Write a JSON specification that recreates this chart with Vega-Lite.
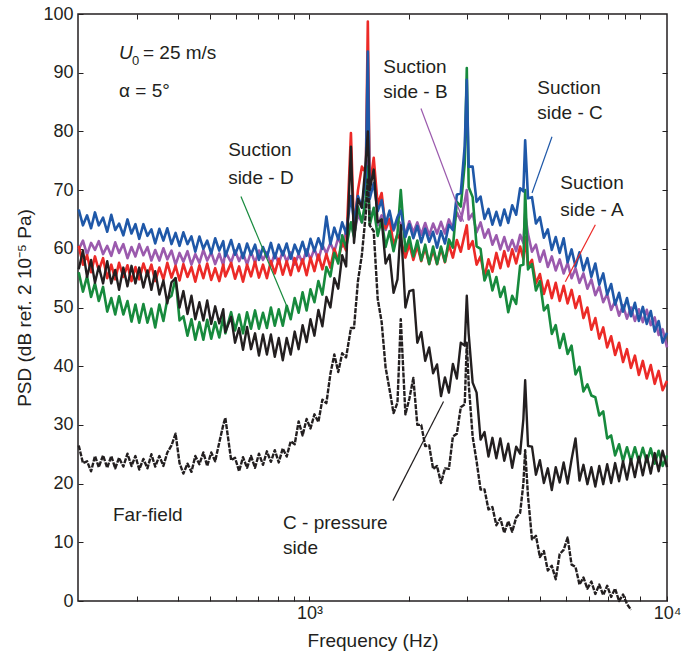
{
"$schema": "https://vega.github.io/schema/vega-lite/v6.json",
"width": 589, "height": 587,
"autosize": {"type": "none"},
"padding": {"left": 78, "top": 14, "right": 14, "bottom": 65},
"background": "white",
"config": {"view": {"stroke": "#231f20", "strokeWidth": 1.5}, "font": "Liberation Sans", "line": {"strokeJoin": "round", "clip": true}},
"data": {"values": [
{"freq":200,"A":60.5,"B":59.9,"C":66.7,"D":56.0,"P":56.5,"F":26.5},
{"freq":206,"A":57.3,"B":61.4,"C":64.0,"D":52.7,"P":59.7,"F":23.5},
{"freq":212,"A":58.9,"B":59.0,"C":65.7,"D":55.3,"P":55.2,"F":23.8},
{"freq":218,"A":56.0,"B":61.0,"C":63.5,"D":51.8,"P":58.1,"F":22.1},
{"freq":224,"A":58.7,"B":59.8,"C":66.2,"D":54.1,"P":54.2,"F":24.7},
{"freq":230,"A":56.3,"B":61.3,"C":64.0,"D":51.1,"P":57.0,"F":22.8},
{"freq":237,"A":58.4,"B":59.1,"C":65.3,"D":53.5,"P":54.1,"F":24.8},
{"freq":244,"A":55.0,"B":60.5,"C":62.9,"D":49.3,"P":57.9,"F":22.7},
{"freq":251,"A":57.3,"B":58.8,"C":65.8,"D":51.6,"P":54.1,"F":24.7},
{"freq":258,"A":54.8,"B":61.1,"C":63.2,"D":48.8,"P":56.4,"F":22.6},
{"freq":265,"A":57.6,"B":59.3,"C":64.3,"D":51.9,"P":53.0,"F":24.4},
{"freq":273,"A":55.2,"B":60.8,"C":62.3,"D":48.8,"P":56.8,"F":22.9},
{"freq":281,"A":57.2,"B":58.4,"C":65.0,"D":51.1,"P":53.6,"F":25.1},
{"freq":289,"A":54.5,"B":60.3,"C":62.6,"D":47.6,"P":57.1,"F":23.0},
{"freq":297,"A":56.9,"B":58.7,"C":64.2,"D":50.5,"P":54.1,"F":24.7},
{"freq":305,"A":54.8,"B":60.8,"C":61.7,"D":47.4,"P":56.8,"F":22.4},
{"freq":314,"A":57.5,"B":58.9,"C":64.2,"D":50.6,"P":53.4,"F":24.2},
{"freq":323,"A":55.4,"B":60.3,"C":62.2,"D":47.4,"P":56.3,"F":22.6},
{"freq":332,"A":57.3,"B":58.0,"C":63.3,"D":49.8,"P":53.0,"F":25.0},
{"freq":341,"A":54.5,"B":59.8,"C":60.9,"D":46.6,"P":56.2,"F":22.9},
{"freq":351,"A":56.8,"B":58.0,"C":63.4,"D":50.5,"P":52.2,"F":24.7},
{"freq":361,"A":54.8,"B":60.1,"C":61.4,"D":47.7,"P":54.6,"F":23.0},
{"freq":371,"A":57.6,"B":58.2,"C":63.5,"D":51.4,"P":50.7,"F":25.3},
{"freq":382,"A":55.1,"B":59.7,"C":60.8,"D":52.0,"P":54.3,"F":26.5},
{"freq":393,"A":57.1,"B":57.3,"C":62.7,"D":55.0,"P":55.0,"F":28.5},
{"freq":404,"A":54.6,"B":59.3,"C":60.5,"D":47.8,"P":50.0,"F":23.5},
{"freq":415,"A":57.4,"B":57.8,"C":62.8,"D":48.5,"P":52.8,"F":21.7},
{"freq":427,"A":55.2,"B":59.6,"C":60.8,"D":45.2,"P":48.9,"F":23.4},
{"freq":439,"A":56.9,"B":57.3,"C":62.1,"D":48.0,"P":52.0,"F":22.0},
{"freq":451,"A":54.4,"B":59.1,"C":59.5,"D":44.5,"P":48.0,"F":24.7},
{"freq":464,"A":57.2,"B":57.6,"C":62.1,"D":47.5,"P":50.9,"F":23.3},
{"freq":477,"A":55.0,"B":59.8,"C":60.0,"D":44.5,"P":47.8,"F":25.3},
{"freq":490,"A":57.5,"B":58.0,"C":61.4,"D":47.9,"P":51.2,"F":23.0},
{"freq":504,"A":54.7,"B":59.4,"C":59.2,"D":44.7,"P":47.2,"F":25.3},
{"freq":518,"A":56.7,"B":57.4,"C":61.8,"D":47.5,"P":50.2,"F":23.8},
{"freq":533,"A":54.5,"B":59.2,"C":59.7,"D":44.9,"P":47.3,"F":27.0},
{"freq":548,"A":57.3,"B":57.2,"C":61.3,"D":48.4,"P":49.7,"F":30.0},
{"freq":556,"A":55.3,"B":59.5,"C":58.7,"D":45.6,"P":45.8,"F":31.2},
{"freq":579,"A":57.6,"B":57.7,"C":61.5,"D":49.2,"P":48.4,"F":24.0},
{"freq":595,"A":54.9,"B":59.7,"C":59.0,"D":46.1,"P":44.0,"F":24.4},
{"freq":612,"A":57.0,"B":57.9,"C":60.8,"D":48.8,"P":46.5,"F":22.1},
{"freq":629,"A":54.4,"B":59.3,"C":58.4,"D":45.6,"P":42.8,"F":24.5},
{"freq":647,"A":57.3,"B":57.3,"C":60.9,"D":49.2,"P":46.7,"F":22.7},
{"freq":665,"A":55.3,"B":59.5,"C":59.0,"D":46.4,"P":42.9,"F":24.7},
{"freq":684,"A":57.8,"B":57.6,"C":60.7,"D":49.5,"P":45.6,"F":22.7},
{"freq":703,"A":55.1,"B":59.7,"C":58.1,"D":46.4,"P":41.8,"F":25.1},
{"freq":723,"A":57.3,"B":58.1,"C":60.3,"D":49.1,"P":45.4,"F":23.2},
{"freq":743,"A":55.0,"B":59.4,"C":58.6,"D":46.5,"P":42.0,"F":25.5},
{"freq":764,"A":57.9,"B":57.2,"C":61.0,"D":50.0,"P":45.4,"F":23.7},
{"freq":785,"A":55.8,"B":59.2,"C":58.4,"D":46.9,"P":41.6,"F":25.7},
{"freq":807,"A":58.3,"B":57.5,"C":60.7,"D":49.7,"P":44.8,"F":23.6},
{"freq":830,"A":55.6,"B":59.6,"C":58.9,"D":46.9,"P":41.0,"F":26.0},
{"freq":853,"A":57.9,"B":57.8,"C":60.9,"D":50.3,"P":44.8,"F":24.6},
{"freq":877,"A":55.5,"B":59.4,"C":58.3,"D":48.0,"P":42.0,"F":27.2},
{"freq":902,"A":58.4,"B":57.3,"C":60.7,"D":51.6,"P":45.9,"F":26.7},
{"freq":927,"A":56.2,"B":59.1,"C":59.1,"D":49.1,"P":42.9,"F":30.6},
{"freq":953,"A":58.2,"B":57.6,"C":61.2,"D":52.6,"P":47.0,"F":28.2},
{"freq":980,"A":55.5,"B":59.9,"C":58.8,"D":49.5,"P":44.1,"F":31.0},
{"freq":1007,"A":58.5,"B":58.2,"C":61.7,"D":53.1,"P":48.0,"F":29.4},
{"freq":1035,"A":56.2,"B":60.0,"C":59.6,"D":50.9,"P":45.2,"F":31.8},
{"freq":1064,"A":59.0,"B":58.1,"C":61.8,"D":54.5,"P":49.6,"F":30.5},
{"freq":1094,"A":56.5,"B":60.7,"C":60.0,"D":52.2,"P":46.8,"F":34.3},
{"freq":1125,"A":59.1,"B":59.2,"C":65.5,"D":56.9,"P":51.8,"F":33.7},
{"freq":1157,"A":56.8,"B":61.0,"C":60.8,"D":55.3,"P":50.0,"F":38.7},
{"freq":1189,"A":60.0,"B":59.5,"C":63.6,"D":59.3,"P":55.0,"F":42.0},
{"freq":1222,"A":58.0,"B":61.9,"C":61.6,"D":57.5,"P":53.2,"F":39.0},
{"freq":1256,"A":61.2,"B":60.4,"C":64.5,"D":62.3,"P":58.9,"F":42.2},
{"freq":1291,"A":59.7,"B":63.2,"C":62.6,"D":60.2,"P":57.0,"F":41.5},
{"freq":1335,"A":79.7,"B":64.3,"C":69.0,"D":64.5,"P":77.4,"F":46.5},
{"freq":1364,"A":63.0,"B":62.3,"C":64.7,"D":62.0,"P":61.0,"F":46.5},
{"freq":1402,"A":70.0,"B":65.8,"C":69.0,"D":67.2,"P":68.5,"F":54.5},
{"freq":1441,"A":74.0,"B":64.5,"C":67.0,"D":64.5,"P":67.0,"F":59.0},
{"freq":1481,"A":73.0,"B":67.5,"C":72.5,"D":68.5,"P":75.0,"F":66.0},
{"freq":1502,"A":98.7,"B":75.0,"C":93.6,"D":74.0,"P":80.0,"F":72.0},
{"freq":1522,"A":70.5,"B":65.0,"C":68.5,"D":64.0,"P":70.0,"F":64.0},
{"freq":1565,"A":75.5,"B":66.7,"C":71.2,"D":67.0,"P":73.5,"F":63.0},
{"freq":1609,"A":67.5,"B":64.0,"C":66.4,"D":62.2,"P":64.5,"F":51.5},
{"freq":1654,"A":69.5,"B":65.7,"C":68.3,"D":65.0,"P":65.0,"F":47.5},
{"freq":1700,"A":63.5,"B":63.2,"C":64.2,"D":60.3,"P":57.5,"F":39.8},
{"freq":1748,"A":65.1,"B":65.0,"C":66.5,"D":63.0,"P":59.0,"F":36.0},
{"freq":1797,"A":60.7,"B":63.1,"C":63.3,"D":59.6,"P":52.5,"F":32.0},
{"freq":1847,"A":62.4,"B":64.9,"C":65.4,"D":62.6,"P":54.8,"F":33.8},
{"freq":1890,"A":61.5,"B":64.3,"C":66.5,"D":70.0,"P":64.0,"F":48.0},
{"freq":1952,"A":58.5,"B":62.6,"C":62.0,"D":59.6,"P":50.0,"F":31.8},
{"freq":2007,"A":60.8,"B":64.7,"C":64.2,"D":62.0,"P":52.8,"F":34.5},
{"freq":2063,"A":58.1,"B":62.8,"C":61.8,"D":58.7,"P":53.0,"F":38.0},
{"freq":2121,"A":60.5,"B":64.5,"C":63.9,"D":61.4,"P":44.0,"F":30.0},
{"freq":2180,"A":57.9,"B":62.4,"C":61.1,"D":58.0,"P":45.8,"F":30.0},
{"freq":2241,"A":60.2,"B":64.4,"C":63.4,"D":60.7,"P":40.9,"F":26.4},
{"freq":2304,"A":57.4,"B":62.3,"C":61.2,"D":57.4,"P":43.2,"F":26.5},
{"freq":2368,"A":59.8,"B":64.3,"C":62.9,"D":60.4,"P":38.8,"F":22.5},
{"freq":2434,"A":57.4,"B":62.6,"C":60.2,"D":57.4,"P":40.3,"F":23.0},
{"freq":2502,"A":60.1,"B":64.6,"C":63.0,"D":60.4,"P":34.9,"F":20.1},
{"freq":2572,"A":57.7,"B":62.6,"C":60.9,"D":57.8,"P":38.1,"F":22.6},
{"freq":2644,"A":60.7,"B":65.0,"C":64.1,"D":61.6,"P":35.5,"F":22.5},
{"freq":2718,"A":58.5,"B":63.4,"C":63.2,"D":60.2,"P":40.4,"F":28.0},
{"freq":2794,"A":61.5,"B":66.2,"C":69.2,"D":68.0,"P":37.9,"F":28.5},
{"freq":2872,"A":59.5,"B":64.8,"C":69.5,"D":67.2,"P":44.0,"F":33.0},
{"freq":2952,"A":62.5,"B":68.0,"C":77.5,"D":74.5,"P":43.5,"F":33.5},
{"freq":2995,"A":64.0,"B":70.0,"C":88.8,"D":90.8,"P":52.0,"F":44.0},
{"freq":3035,"A":60.0,"B":65.0,"C":74.0,"D":70.5,"P":45.5,"F":37.0},
{"freq":3120,"A":61.3,"B":66.0,"C":74.0,"D":68.8,"P":37.2,"F":28.0},
{"freq":3207,"A":57.3,"B":62.8,"C":68.0,"D":60.4,"P":35.5,"F":23.8},
{"freq":3297,"A":58.7,"B":64.5,"C":68.9,"D":60.0,"P":27.5,"F":19.0},
{"freq":3389,"A":55.2,"B":61.9,"C":65.1,"D":54.6,"P":28.8,"F":19.0},
{"freq":3484,"A":58.2,"B":63.3,"C":66.8,"D":56.3,"P":24.6,"F":15.6},
{"freq":3581,"A":56.1,"B":60.7,"C":64.1,"D":52.9,"P":27.8,"F":16.0},
{"freq":3681,"A":59.3,"B":62.3,"C":66.3,"D":55.2,"P":24.3,"F":12.9},
{"freq":3784,"A":56.7,"B":59.9,"C":64.0,"D":51.8,"P":27.7,"F":14.1},
{"freq":3890,"A":59.6,"B":62.0,"C":66.7,"D":53.5,"P":23.9,"F":11.6},
{"freq":3999,"A":57.0,"B":59.7,"C":64.4,"D":49.2,"P":26.8,"F":13.6},
{"freq":4111,"A":59.9,"B":61.5,"C":67.4,"D":52.0,"P":22.7,"F":11.8},
{"freq":4226,"A":57.5,"B":59.6,"C":65.8,"D":50.6,"P":26.3,"F":14.2},
{"freq":4344,"A":60.4,"B":62.4,"C":70.3,"D":57.1,"P":25.1,"F":15.0},
{"freq":4444,"A":58.3,"B":61.0,"C":69.8,"D":57.3,"P":31.0,"F":20.0},
{"freq":4500,"A":62.0,"B":66.0,"C":78.5,"D":70.0,"P":37.6,"F":25.7},
{"freq":4591,"A":57.1,"B":62.5,"C":68.6,"D":56.5,"P":26.4,"F":17.8},
{"freq":4719,"A":58.1,"B":59.5,"C":68.8,"D":57.4,"P":26.3,"F":10.5},
{"freq":4851,"A":54.1,"B":60.7,"C":64.3,"D":52.9,"P":21.5,"F":11.1},
{"freq":4987,"A":55.7,"B":57.8,"C":65.4,"D":54.5,"P":24.0,"F":7.5},
{"freq":5127,"A":52.3,"B":59.7,"C":61.9,"D":49.5,"P":20.1,"F":8.5},
{"freq":5270,"A":54.6,"B":56.9,"C":63.3,"D":50.4,"P":22.6,"F":5.2},
{"freq":5418,"A":51.6,"B":58.7,"C":59.8,"D":45.5,"P":18.9,"F":6.0},
{"freq":5569,"A":54.2,"B":56.3,"C":62.0,"D":47.0,"P":22.8,"F":3.7},
{"freq":5725,"A":51.1,"B":58.2,"C":59.3,"D":43.1,"P":20.2,"F":8.0},
{"freq":5885,"A":53.7,"B":55.8,"C":61.8,"D":45.5,"P":23.6,"F":8.7},
{"freq":6050,"A":50.7,"B":57.6,"C":57.7,"D":42.1,"P":20.0,"F":10.8},
{"freq":6219,"A":53.0,"B":55.0,"C":59.9,"D":43.5,"P":24.1,"F":6.2},
{"freq":6393,"A":49.9,"B":56.7,"C":57.0,"D":38.6,"P":27.7,"F":5.8},
{"freq":6572,"A":51.9,"B":54.2,"C":59.4,"D":39.9,"P":20.5,"F":2.8},
{"freq":6756,"A":48.2,"B":55.8,"C":56.3,"D":35.7,"P":23.2,"F":4.0},
{"freq":6945,"A":50.0,"B":53.2,"C":58.4,"D":36.9,"P":19.9,"F":2.1},
{"freq":7140,"A":46.2,"B":54.8,"C":55.2,"D":35.0,"P":22.8,"F":3.3},
{"freq":7340,"A":48.2,"B":52.1,"C":57.5,"D":34.7,"P":19.5,"F":1.2},
{"freq":7545,"A":44.7,"B":53.6,"C":53.9,"D":31.6,"P":23.0,"F":2.8},
{"freq":7756,"A":46.6,"B":50.9,"C":55.8,"D":32.3,"P":19.9,"F":1.0},
{"freq":7973,"A":43.2,"B":52.3,"C":52.2,"D":27.7,"P":23.3,"F":2.6},
{"freq":8196,"A":45.1,"B":49.6,"C":54.0,"D":28.2,"P":20.1,"F":0.7},
{"freq":8426,"A":41.9,"B":51.1,"C":50.5,"D":24.8,"P":23.5,"F":2.1},
{"freq":8662,"A":44.0,"B":48.6,"C":52.5,"D":26.7,"P":20.4,"F":0.0},
{"freq":8904,"A":40.7,"B":50.4,"C":49.3,"D":23.8,"P":23.8,"F":1.1},
{"freq":9153,"A":42.9,"B":48.1,"C":51.6,"D":26.2,"P":20.7,"F":-0.5},
{"freq":9410,"A":39.7,"B":50.0,"C":48.5,"D":23.8,"P":24.2,"F":-1.5},
{"freq":9673,"A":41.8,"B":47.7,"C":50.8,"D":26.2,"P":21.1},
{"freq":9944,"A":38.5,"B":49.7,"C":47.7,"D":23.7,"P":24.6},
{"freq":10222,"A":40.9,"B":47.5,"C":50.1,"D":26.1,"P":21.4},
{"freq":10508,"A":37.9,"B":49.6,"C":47.2,"D":23.7,"P":24.8},
{"freq":10803,"A":40.2,"B":47.0,"C":49.4,"D":26.0,"P":21.7},
{"freq":11105,"A":37.0,"B":48.3,"C":45.9,"D":23.4,"P":25.2},
{"freq":11416,"A":39.2,"B":45.3,"C":47.7,"D":25.6,"P":22.1},
{"freq":11736,"A":35.9,"B":46.3,"C":44.0,"D":23.0,"P":25.6},
{"freq":12100,"A":37.5,"B":43.2,"C":45.7,"D":24.8,"P":22.8}
]},
"encoding": {"x": {"field": "freq", "type": "quantitative", "scale": {"type": "log", "domain": [199, 12100]}, "axis": null}},
"resolve": {"axis": {"x": "independent", "y": "independent"}},
"layer": [
{"mark": {"type": "line", "color": "#9b5aad", "strokeWidth": 2.6},
 "encoding": {
  "x": {"field": "freq", "type": "quantitative", "scale": {"type": "log", "domain": [199, 12100]},
        "axis": {"orient": "top", "values": [300,400,500,600,700,800,900,1000,2000,3000,4000,5000,6000,7000,8000,9000,10000], "labels": false, "tickSize": -5, "tickColor": "#231f20", "domain": false, "grid": false, "title": null}},
  "y": {"field": "B", "type": "quantitative", "scale": {"domain": [0, 100]},
        "axis": {"orient": "right", "values": [10,20,30,40,50,60,70,80,90], "labels": false, "tickSize": -5, "tickColor": "#231f20", "domain": false, "grid": false, "title": null}}}},
{"mark": {"type": "line", "color": "#ec2a27", "strokeWidth": 2.6},
 "encoding": {"y": {"field": "A", "type": "quantitative", "scale": {"domain": [0, 100]}, "axis": null}}},
{"mark": {"type": "line", "color": "#178a3d", "strokeWidth": 2.6},
 "encoding": {"y": {"field": "D", "type": "quantitative", "scale": {"domain": [0, 100]}, "axis": null}}},
{"mark": {"type": "line", "color": "#1f58a8", "strokeWidth": 2.6},
 "encoding": {
  "x": {"field": "freq", "type": "quantitative", "scale": {"type": "log", "domain": [199, 12100]},
        "axis": {"orient": "bottom", "values": [300,400,500,600,700,800,900,1000,2000,3000,4000,5000,6000,7000,8000,9000,10000,12100],
                 "labelExpr": "datum.value == 1000 ? '10³' : (datum.value > 11000 ? '10⁴' : '')",
                 "tickSize": -5, "tickColor": "#231f20", "domain": false, "grid": false,
                 "labelFont": "Liberation Sans", "labelFontSize": 18, "labelColor": "#231f20", "labelPadding": 8, "labelFlush": false, "labelOverlap": false,
                 "title": "Frequency (Hz)", "titleFont": "Liberation Sans", "titleFontSize": 19, "titleFontWeight": "normal", "titleColor": "#231f20", "titlePadding": 9}},
  "y": {"field": "C", "type": "quantitative", "scale": {"domain": [0, 100]},
        "axis": {"orient": "left", "values": [0,10,20,30,40,50,60,70,80,90,100], "tickSize": -5, "tickColor": "#231f20", "domain": false, "grid": false,
                 "labelFont": "Liberation Sans", "labelFontSize": 18, "labelColor": "#231f20", "labelPadding": 10,
                 "title": "PSD (dB ref. 2 10⁻⁵ Pa)", "titleFont": "Liberation Sans", "titleFontSize": 19, "titleFontWeight": "normal", "titleColor": "#231f20", "titlePadding": 8}}}},
{"mark": {"type": "line", "color": "#231f20", "strokeWidth": 2.4},
 "encoding": {"y": {"field": "P", "type": "quantitative", "scale": {"domain": [0, 100]}, "axis": null}}},
{"mark": {"type": "line", "color": "#231f20", "strokeWidth": 2.4, "strokeDash": [5, 1.2]},
 "encoding": {"y": {"field": "F", "type": "quantitative", "scale": {"domain": [0, 100]}, "axis": null}}},
{"data": {"values": [
  {"freq": 620, "psd": 68.9, "freq2": 858, "psd2": 49.9, "series": "D"},
  {"freq": 2176, "psd": 83.9, "freq2": 2928, "psd2": 64.6, "series": "B"},
  {"freq": 5426, "psd": 79.1, "freq2": 4721, "psd2": 69.5, "series": "C"},
  {"freq": 7341, "psd": 64.1, "freq2": 5954, "psd2": 54.4, "series": "A"},
  {"freq": 1789, "psd": 17.1, "freq2": 2547, "psd2": 34.0, "series": "P"}
 ]},
 "mark": {"type": "rule", "strokeWidth": 1.2},
 "encoding": {
  "y": {"field": "psd", "type": "quantitative", "scale": {"domain": [0, 100]}, "axis": null},
  "x2": {"field": "freq2"},
  "y2": {"field": "psd2"},
  "color": {"field": "series", "type": "nominal", "scale": {"domain": ["A","B","C","D","P"], "range": ["#ec2a27","#9b5aad","#1f58a8","#178a3d","#231f20"]}, "legend": null}}},
{"data": {"values": [
  {"freq": 567, "psd": 76.8, "label": "Suction"},
  {"freq": 567, "psd": 72.1, "label": "side - D"},
  {"freq": 1672, "psd": 91.0, "label": "Suction"},
  {"freq": 1672, "psd": 86.7, "label": "side - B"},
  {"freq": 4898, "psd": 87.4, "label": "Suction"},
  {"freq": 4898, "psd": 83.1, "label": "side - C"},
  {"freq": 5751, "psd": 71.2, "label": "Suction"},
  {"freq": 5751, "psd": 66.6, "label": "side - A"},
  {"freq": 254, "psd": 14.6, "label": "Far-field"},
  {"freq": 832, "psd": 13.3, "label": "C - pressure"},
  {"freq": 832, "psd": 9.0, "label": "side"},
  {"freq": 313, "psd": 93.3, "label": "= 25 m/s"},
  {"freq": 265, "psd": 86.8, "label": "α = 5°"}
 ]},
 "mark": {"type": "text", "align": "left", "baseline": "middle", "fontSize": 19, "font": "Liberation Sans", "color": "#231f20"},
 "encoding": {
  "y": {"field": "psd", "type": "quantitative", "scale": {"domain": [0, 100]}, "axis": null},
  "text": {"field": "label"}}},
{"data": {"values": [{"freq": 265, "psd": 93.3, "label": "U"}]},
 "mark": {"type": "text", "align": "left", "baseline": "middle", "fontSize": 19, "fontStyle": "italic", "font": "Liberation Sans", "color": "#231f20"},
 "encoding": {
  "y": {"field": "psd", "type": "quantitative", "scale": {"domain": [0, 100]}, "axis": null},
  "text": {"field": "label"}}},
{"data": {"values": [{"freq": 290, "psd": 92.0, "label": "0"}]},
 "mark": {"type": "text", "align": "left", "baseline": "middle", "fontSize": 13, "font": "Liberation Sans", "color": "#231f20"},
 "encoding": {
  "y": {"field": "psd", "type": "quantitative", "scale": {"domain": [0, 100]}, "axis": null},
  "text": {"field": "label"}}}
]
}
